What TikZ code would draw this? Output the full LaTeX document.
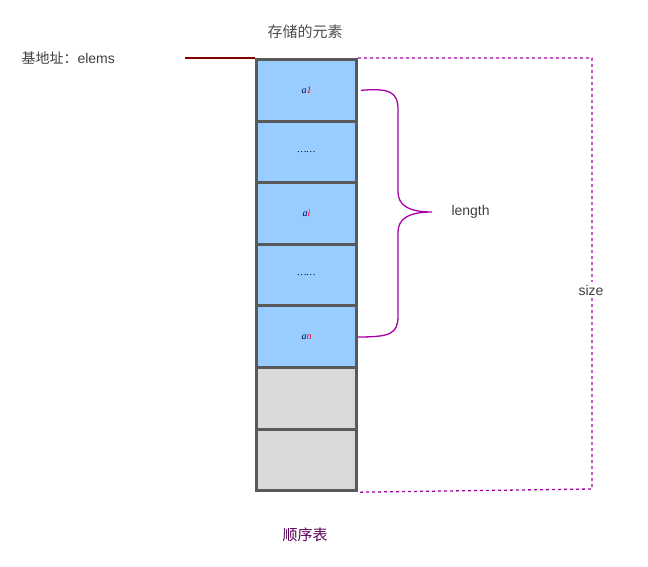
\documentclass[tikz,border=0pt]{standalone}
\usepackage{fontspec}
\setmainfont{Liberation Serif}
\newfontfamily\cjk{Noto Sans CJK SC}
\newfontfamily\arialf{Liberation Sans}
\begin{document}
\begin{tikzpicture}[x=1pt,y=-1pt,
  cell/.style={draw=black!65,line width=3pt,minimum width=100pt,minimum height=61.6pt,inner sep=0pt,anchor=north west},
  full/.style={cell,fill=blue!10!cyan!35},
  empty/.style={cell,fill=black!15},
  lbl/.style={font=\arialf\fontsize{14}{16}\selectfont,text=black!75},
  purp/.style={draw=violet!70!magenta,line width=1.3pt}]
\useasboundingbox (0,0) rectangle (648,567);
\definecolor{cellblue}{RGB}{153,204,255}
\node[full,fill=cellblue] (c1) at (255,58) {\textit{\textcolor{blue!40!black}{a}\textcolor{red}{1}}};
\node[full,fill=cellblue] (c2) at (255,119.6) {\textit{……}};
\node[full,fill=cellblue] (c3) at (255,181.2) {\textit{\textcolor{blue!40!black}{a}\textcolor{red}{i}}};
\node[full,fill=cellblue] (c4) at (255,242.8) {\textit{……}};
\node[full,fill=cellblue] (c5) at (255,304.4) {\textit{\textcolor{blue!40!black}{a}\textcolor{red}{n}}};
\node[empty] (c6) at (255,366) {};
\node[empty] (c7) at (255,427.6) {};
\node[font=\cjk\fontsize{15}{17}\selectfont,text=black!70] (top) at (305,32) {存储的元素};
\node[font=\cjk\fontsize{15}{17}\selectfont,text=violet!70!black] (bot) at (305,535) {顺序表};
\node[lbl,anchor=west] (base) at (18,58) {{\cjk 基地址：}elems};
\draw[draw=red!50!black,line width=1.3pt] (185,58) -- (c1.north west);
\coordinate (s1) at (592,58);
\coordinate (s2) at (592,489);
\draw[purp,dashed] (c1.north east) -- (s1) -- (s2) -- (c7.south east);
\node[lbl,fill=white] (size) at (591,290) {size};
\draw[purp] (c1.east) ++(3,0) .. controls (390,88) and (398,92) .. (398,110) -- (398,192) .. controls (398,206) and (410,212) .. (432,212)
  .. controls (410,212) and (398,218) .. (398,232) -- (398,316) .. controls (398,334) and (390,337) .. (358,337);
\node[lbl,anchor=west] (len) at (448,212) {length};
\end{tikzpicture}
\end{document}
